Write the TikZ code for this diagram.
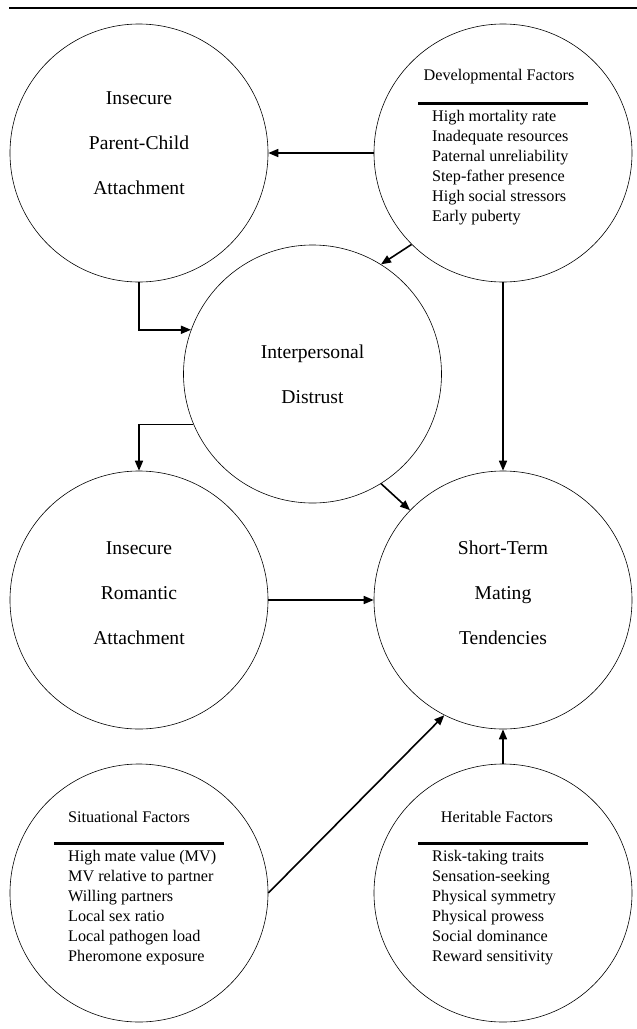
\documentclass[tikz,border=0pt]{standalone}
\usepackage{fontspec}
\setmainfont{Liberation Serif}
\usetikzlibrary{arrows.meta, positioning}

\begin{document}
\begin{tikzpicture}[x=1pt, y=1pt,
    factor circle/.style={draw, circle, line width=0.6pt, minimum size=258pt, inner sep=0pt},
    main label/.style={font=\fontsize{19.6}{45}\selectfont, align=center, inner sep=0pt},
    list_title/.style={font=\fontsize{16.2}{20}\selectfont, inner sep=0pt},
    item list/.style={font=\fontsize{16.2}{20}\selectfont, align=left, anchor=north west, inner sep=0pt},
    title rule/.style={line width=3pt},
    link/.style={-{Triangle[length=10pt, width=8pt]}, line width=1.6pt}
]
    \useasboundingbox (0,0) rectangle (637,-1029);

    % Rule across the top
    \draw[line width=2.5pt] (9,-8) -- (637,-8);

    % Circles
    \node[factor circle] (pc) at (139,-153) {};
    \node[factor circle] (df) at (503,-153) {};
    \node[factor circle] (id) at (312.5,-374) {};
    \node[factor circle] (ir) at (139,-600) {};
    \node[factor circle] (st) at (503,-600) {};
    \node[factor circle] (sf) at (139,-893) {};
    \node[factor circle] (hf) at (503,-893) {};

    % Main labels
    \node[main label] (pc_text) at ([yshift=10pt]pc.center) {Insecure\\Parent-Child\\Attachment};
    \node[main label] (id_text) at (id.center) {Interpersonal\\Distrust};
    \node[main label] (ir_text) at ([yshift=7pt]ir.center) {Insecure\\Romantic\\Attachment};
    \node[main label] (st_text) at ([yshift=7pt]st.center) {Short-Term\\Mating\\Tendencies};

    % Developmental factors
    \node[list_title] (df_title) at ([xshift=-4pt, yshift=76pt]df.center) {Developmental Factors};
    \draw[title rule] ([xshift=-85pt, yshift=50pt]df.center) -- ([xshift=85pt, yshift=50pt]df.center);
    \node[item list] (df_list) at ([xshift=-71pt, yshift=43pt]df.center)
        {High mortality rate\\Inadequate resources\\Paternal unreliability\\Step-father presence\\High social stressors\\Early puberty};

    % Situational factors
    \node[list_title] (sf_title) at ([xshift=-10pt, yshift=76pt]sf.center) {Situational Factors};
    \draw[title rule] ([xshift=-85pt, yshift=50pt]sf.center) -- ([xshift=85pt, yshift=50pt]sf.center);
    \node[item list] (sf_list) at ([xshift=-71pt, yshift=43pt]sf.center)
        {High mate value (MV)\\MV relative to partner\\Willing partners\\Local sex ratio\\Local pathogen load\\Pheromone exposure};

    % Heritable factors
    \node[list_title] (hf_title) at ([xshift=-6pt, yshift=76pt]hf.center) {Heritable Factors};
    \draw[title rule] ([xshift=-85pt, yshift=50pt]hf.center) -- ([xshift=85pt, yshift=50pt]hf.center);
    \node[item list] (hf_list) at ([xshift=-71pt, yshift=43pt]hf.center)
        {Risk-taking traits\\Sensation-seeking\\Physical symmetry\\Physical prowess\\Social dominance\\Reward sensitivity};

    % Arrows
    \draw[link] (df.west) -- (pc.east);
    \draw[link] (df.225) -- (id.58);
    \draw[link] (df.south) -- (st.north);
    \draw[link] (pc.south) |- (id.160);
    \draw[link] (id.203) -| (ir.north);
    \draw[link] (id.-58) -- (st.136);
    \draw[link] (ir.east) -- (st.west);
    \draw[link] (sf.east) -- (st.243);
    \draw[link] (hf.north) -- (st.south);
\end{tikzpicture}
\end{document}
